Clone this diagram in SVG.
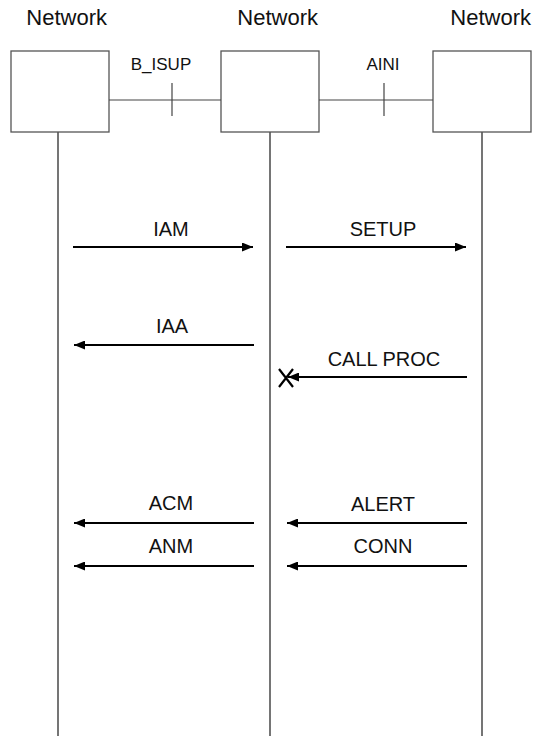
<svg xmlns="http://www.w3.org/2000/svg" width="533" height="736" viewBox="0 0 533 736">
<defs>
<style>
text{font-family:"Liberation Sans",Arial,sans-serif;fill:#111}
.title{font-size:22px;text-anchor:end}
.lbl{font-size:17px;text-anchor:middle}
.msg{font-size:20px;text-anchor:middle}
.box{fill:#fff;stroke:#555;stroke-width:1.3}
.life{stroke:#666;stroke-width:1.8;fill:none}
.link{stroke:#444;stroke-width:1.2;fill:none}
.arr{stroke:#000;stroke-width:2;fill:none;marker-end:url(#ah)}
.x{stroke:#000;stroke-width:2.2;fill:none}
</style>
<marker id="ah" viewBox="0 0 11 9" refX="11" refY="4.5" markerWidth="11" markerHeight="9" markerUnits="userSpaceOnUse" orient="auto">
<path d="M0,0 L11,4.5 L0,9 Z" fill="#000"/>
</marker>
</defs>
<g id="lifelines">
<line class="life" x1="58" y1="132" x2="58" y2="736"/>
<line class="life" x1="270" y1="132" x2="270" y2="736"/>
<line class="life" x1="482" y1="132" x2="482" y2="736"/>
</g>
<g id="node-left">
<text class="title" x="107" y="25">Network</text>
<rect class="box" x="11" y="51" width="98" height="81"/>
</g>
<g id="node-middle">
<text class="title" x="318" y="25">Network</text>
<rect class="box" x="221" y="51" width="98" height="81"/>
</g>
<g id="node-right">
<text class="title" x="531" y="25">Network</text>
<rect class="box" x="433" y="51" width="98" height="81"/>
</g>
<g id="connectors">
<line class="link" x1="109" y1="100" x2="221" y2="100"/>
<line class="link" x1="172" y1="83" x2="172" y2="116"/>
<text class="lbl" x="161" y="70">B_ISUP</text>
<line class="link" x1="319" y1="100" x2="433" y2="100"/>
<line class="link" x1="384" y1="83" x2="384" y2="116"/>
<text class="lbl" x="383" y="70">AINI</text>

<line class="arr" x1="73" y1="247" x2="253" y2="247"/>
<text class="msg" x="171" y="236">IAM</text>
<line class="arr" x1="286" y1="247" x2="466" y2="247"/>
<text class="msg" x="383" y="236">SETUP</text>

<line class="arr" x1="254" y1="345" x2="74" y2="345"/>
<text class="msg" x="172" y="333">IAA</text>

<line class="arr" x1="467" y1="377" x2="288" y2="377"/>
<path class="x" d="M279,369 L293,387 M293,369 L279,387"/>
<text class="msg" x="384" y="366">CALL PROC</text>

<line class="arr" x1="254" y1="523" x2="74" y2="523"/>
<text class="msg" x="171" y="510">ACM</text>
<line class="arr" x1="467" y1="523" x2="287" y2="523"/>
<text class="msg" x="383" y="511">ALERT</text>

<line class="arr" x1="254" y1="566" x2="74" y2="566"/>
<text class="msg" x="171" y="553">ANM</text>
<line class="arr" x1="467" y1="566" x2="287" y2="566"/>
<text class="msg" x="383" y="553">CONN</text>
</g>
</svg>
